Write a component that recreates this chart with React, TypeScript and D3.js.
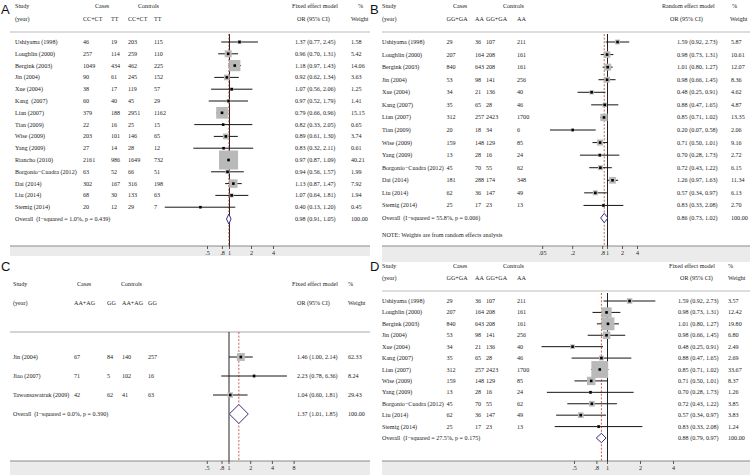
import React from 'react';
import * as d3 from 'd3';

// ---------- Panel A data (CC+CT vs TT, fixed effect) ----------
const studiesA = ["Ushiyama (1998)", "Loughlin (2000)", "Bergink (2003)", "Jin (2004)", "Xue (2004)", "Kang  (2007)", "Lian (2007)", "Tian (2009)", "Wise (2009)", "Yang (2009)", "Riancho (2010)", "Borgonio\u2212Cuadra (2012)", "Dai (2014)", "Liu (2014)", "Stemig (2014)"];
const countsA = [[46, 19, 203, 115], [257, 114, 259, 110], [1049, 434, 462, 225], [90, 61, 245, 152], [38, 17, 119, 57], [60, 40, 45, 29], [379, 188, 2951, 1162], [22, 16, 25, 15], [203, 101, 146, 65], [27, 14, 28, 12], [2161, 986, 1649, 732], [63, 52, 66, 51], [302, 167, 316, 198], [68, 30, 133, 63], [20, 12, 29, 7]];
const estA = [[1.37, 0.77, 2.45], [0.96, 0.70, 1.31], [1.18, 0.97, 1.43], [0.92, 0.62, 1.34], [1.07, 0.56, 2.06], [0.97, 0.52, 1.79], [0.79, 0.66, 0.96], [0.82, 0.33, 2.05], [0.89, 0.61, 1.30], [0.83, 0.32, 2.11], [0.97, 0.87, 1.09], [0.94, 0.56, 1.57], [1.13, 0.87, 1.47], [1.07, 0.64, 1.81], [0.40, 0.13, 1.20]];
const weightsA = [1.58, 5.42, 14.06, 3.63, 1.25, 1.41, 15.15, 0.65, 3.74, 0.61, 40.21, 1.99, 7.92, 1.94, 0.45];
const overallA = [0.98, 0.91, 1.05];
const hetA = "Overall  (I\u2212squared = 1.0%, p = 0.439)";
const genoA = ["CC+CT", "TT", "CC+CT", "TT"];
const ticksA = [0.5, 0.8, 1, 2, 4];
const tickLabelsA = [".5", ".8", "1", "2", "4"];

// ---------- Panel B data (GG+GA vs AA, random effect) ----------
const studiesB = ["Ushiyama (1998)", "Loughlin (2000)", "Bergink (2003)", "Jin (2004)", "Xue (2004)", "Kang (2007)", "Lian (2007)", "Tian (2009)", "Wise (2009)", "Yang (2009)", "Borgonio\u2212Cuadra (2012)", "Dai (2014)", "Liu (2014)", "Stemig (2014)"];
const countsB = [[29, 36, 107, 211], [207, 164, 208, 161], [840, 643, 208, 161], [53, 98, 141, 256], [34, 21, 136, 40], [35, 65, 28, 46], [312, 257, 2423, 1700], [20, 18, 34, 6], [159, 148, 129, 85], [13, 28, 16, 24], [45, 70, 55, 62], [181, 288, 174, 348], [62, 36, 147, 49], [25, 17, 23, 13]];
const estB = [[1.59, 0.92, 2.73], [0.98, 0.73, 1.31], [1.01, 0.80, 1.27], [0.98, 0.66, 1.45], [0.48, 0.25, 0.91], [0.88, 0.47, 1.65], [0.85, 0.71, 1.02], [0.20, 0.07, 0.58], [0.71, 0.50, 1.01], [0.70, 0.28, 1.73], [0.72, 0.43, 1.22], [1.26, 0.97, 1.63], [0.57, 0.34, 0.97], [0.83, 0.33, 2.08]];
const weightsB = [5.87, 10.61, 12.07, 8.36, 4.62, 4.87, 13.35, 2.06, 9.16, 2.72, 6.15, 11.34, 6.13, 2.70];
const overallB = [0.86, 0.73, 1.02];
const hetB = "Overall  (I\u2212squared = 55.8%, p = 0.006)";
const genoB = ["GG+GA", "AA", "GG+GA", "AA"];
const ticksB = [0.05, 0.2, 0.8, 1, 2, 4];
const tickLabelsB = [".05", ".2", ".8", "1", "2", "4"];
const noteB = "NOTE: Weights are from random effects analysis";

// ---------- Panel C data (AA+AG vs GG, fixed effect) ----------
const studiesC = ["Jin (2004)", "Jiao (2007)", "Tawonsawatruk (2009)"];
const countsC = [[67, 84, 140, 257], [71, 5, 102, 16], [42, 62, 41, 63]];
const estC = [[1.46, 1.00, 2.14], [2.23, 0.78, 6.36], [1.04, 0.60, 1.81]];
const weightsC = [62.33, 8.24, 29.43];
const overallC = [1.37, 1.01, 1.85];
const hetC = "Overall  (I\u2212squared = 0.0%, p = 0.390)";
const genoC = ["AA+AG", "GG", "AA+AG", "GG"];
const ticksC = [0.5, 0.8, 1, 2, 4, 8];
const tickLabelsC = [".5", ".8", "1", "2", "4", "8"];

// ---------- Panel D data (GG+GA vs AA, fixed effect) ----------
const studiesD = ["Ushiyama (1998)", "Loughlin (2000)", "Bergink (2003)", "Jin (2004)", "Xue (2004)", "Kang (2007)", "Lian (2007)", "Wise (2009)", "Yang (2009)", "Borgonio\u2212Cuadra (2012)", "Liu (2014)", "Stemig (2014)"];
const countsD = [[29, 36, 107, 211], [207, 164, 208, 161], [840, 643, 208, 161], [53, 98, 141, 256], [34, 21, 136, 40], [35, 65, 28, 46], [312, 257, 2423, 1700], [159, 148, 129, 85], [13, 28, 16, 24], [45, 70, 55, 62], [62, 36, 147, 49], [25, 17, 23, 13]];
const estD = [[1.59, 0.92, 2.73], [0.98, 0.73, 1.31], [1.01, 0.80, 1.27], [0.98, 0.66, 1.45], [0.48, 0.25, 0.91], [0.88, 0.47, 1.65], [0.85, 0.71, 1.02], [0.71, 0.50, 1.01], [0.70, 0.28, 1.73], [0.72, 0.43, 1.22], [0.57, 0.34, 0.97], [0.83, 0.33, 2.08]];
const weightsD = [3.57, 12.42, 19.80, 6.80, 2.49, 2.69, 33.67, 8.37, 1.26, 3.85, 3.83, 1.24];
const overallD = [0.88, 0.79, 0.97];
const hetD = "Overall  (I\u2212squared = 27.5%, p = 0.175)";
const genoD = ["GG+GA", "AA", "GG+GA", "AA"];
const ticksD = [0.5, 0.8, 1, 2, 4];
const tickLabelsD = [".5", ".8", "1", "2", "4"];

const SERIF = "'Liberation Serif', 'Times New Roman', serif";
const FS = 6.1;
const TXT = "#222";

type Cfg = {
  letter: string; lx: number; ly: number;
  sx: number; cols: number[]; casesX: number; ctrlX: number;
  h1: number; h2: number; lineY: number; lineX0: number; lineX1: number; lineColor: string; lineW: number;
  row0: number; rowN: number;
  orX: number; wX: number; modelX: number; pctX: number; orHX: number; wHX: number; model: string;
  one: number; k: number; boxK: number; diaH: number;
  bandY: number; bandB: number; bandX0: number; bandX1: number; vTop: number;
  studies: string[]; counts: number[][]; est: number[][]; weights: number[]; overall: number[]; het: string;
  geno: string[]; ticks: number[]; tickLabels: string[]; note?: string; noteY?: number;
};

function Panel({ c }: { c: Cfg }) {
  const x = d3.scaleLog().domain([1, 2]).range([c.one, c.one + c.k]);
  const n = c.studies.length;
  const y = d3.scaleLinear().domain([0, n]).range([c.row0, c.rowN]);
  const f2 = (v: number) => v.toFixed(2);
  const T = (props: any) => (
    <text fontFamily={SERIF} fontSize={FS} fill={TXT} dominantBaseline="central" style={{ whiteSpace: 'pre' }} {...props} />
  );
  const ov = c.overall;
  const yo = y(n);
  return (
    <g>
      <text x={c.lx} y={c.ly} fontFamily="'Liberation Sans', Arial, sans-serif" fontSize={13} fill="#111">{c.letter}</text>
      <T x={c.sx} y={c.h1}>Study</T>
      <T x={c.sx} y={c.h2}>(year)</T>
      <T x={c.casesX} y={c.h1}>Cases</T>
      <T x={c.ctrlX} y={c.h1}>Controls</T>
      {c.geno.map((g, i) => <T key={i} x={c.cols[i]} y={c.h2}>{g}</T>)}
      <T x={c.modelX} y={c.h1}>{c.model}</T>
      <T x={c.pctX} y={c.h1}>%</T>
      <T x={c.orHX} y={c.h2}>OR (95% CI)</T>
      <T x={c.wHX} y={c.h2}>Weight</T>
      <line x1={c.lineX0} x2={c.lineX1} y1={c.lineY} y2={c.lineY} stroke={c.lineColor} strokeWidth={c.lineW} />

      {/* axis band */}
      <rect x={c.bandX0} y={c.bandY} width={c.bandX1 - c.bandX0} height={c.bandB - c.bandY} fill="#ebebeb" />
      <line x1={c.bandX0} x2={c.bandX1} y1={c.bandY} y2={c.bandY} stroke="#8a8a8a" strokeWidth={1} />
      {c.ticks.map((t, i) => (
        <g key={i}>
          <line x1={x(t)} x2={x(t)} y1={c.bandY} y2={c.bandY + 3} stroke="#333" strokeWidth={0.8} />
          <text x={x(t)} y={c.bandY + 6.5} fontFamily={SERIF} fontSize={FS} fill={TXT} textAnchor="middle" dominantBaseline="central">{c.tickLabels[i]}</text>
        </g>
      ))}

      {/* reference lines */}
      <line x1={x(1)} x2={x(1)} y1={c.vTop} y2={c.bandY} stroke="#222" strokeWidth={1} />
      <line x1={x(ov[0])} x2={x(ov[0])} y1={c.vTop} y2={c.bandY} stroke="#c0392b" strokeWidth={0.8} strokeDasharray="2,1.6" />

      {/* CI lines */}
      {c.est.map((e, i) => (
        <line key={'l' + i} x1={x(e[1])} x2={x(e[2])} y1={y(i)} y2={y(i)} stroke="#151515" strokeWidth={1} />
      ))}
      {/* boxes */}
      {c.est.map((e, i) => {
        const s = c.boxK * Math.sqrt(c.weights[i]);
        return <rect key={'b' + i} x={x(e[0]) - s / 2} y={y(i) - s / 2} width={s} height={s} fill="#b9b9b9" />;
      })}
      {/* points */}
      {c.est.map((e, i) => (
        <rect key={'p' + i} x={x(e[0]) - 1.3} y={y(i) - 1.3} width={2.6} height={2.6} fill="#000" />
      ))}

      {/* row texts */}
      {c.studies.map((s, i) => (
        <g key={'t' + i}>
          <T x={c.sx} y={y(i)}>{s}</T>
          {c.counts[i].map((v, j) => <T key={j} x={c.cols[j]} y={y(i)}>{v}</T>)}
          <T x={c.orX} y={y(i)}>{`${f2(c.est[i][0])} (${f2(c.est[i][1])}, ${f2(c.est[i][2])})`}</T>
          <T x={c.wX} y={y(i)}>{f2(c.weights[i])}</T>
        </g>
      ))}

      {/* overall */}
      <T x={c.sx} y={yo}>{c.het}</T>
      <path d={`M${x(ov[1])},${yo} L${x(ov[0])},${yo - c.diaH} L${x(ov[2])},${yo} L${x(ov[0])},${yo + c.diaH} Z`} fill="#fff" stroke="#3b2e7e" strokeWidth={1} />
      <T x={c.orX} y={yo}>{`${f2(ov[0])} (${f2(ov[1])}, ${f2(ov[2])})`}</T>
      <T x={c.wX} y={yo}>100.00</T>
      {c.note ? <T x={c.sx} y={c.noteY}>{c.note}</T> : null}
    </g>
  );
}

const cfgA: Cfg = {
  letter: "A", lx: 1, ly: 14, sx: 15, cols: [83, 111, 128, 154], casesX: 95, ctrlX: 138,
  h1: 6, h2: 19, lineY: 32, lineX0: 10, lineX1: 370, lineColor: "#d2d2d2", lineW: 1.6,
  row0: 42, rowN: 219, orX: 295, wX: 351, modelX: 292, pctX: 358, orHX: 297, wHX: 351, model: "Fixed effect model",
  one: 229.5, k: 22, boxK: 3, diaH: 5, bandY: 246, bandB: 256, bandX0: 10, bandX1: 370, vTop: 34,
  studies: studiesA, counts: countsA, est: estA, weights: weightsA, overall: overallA, het: hetA,
  geno: genoA, ticks: ticksA, tickLabels: tickLabelsA,
};
const cfgB: Cfg = {
  letter: "B", lx: 370, ly: 14, sx: 382, cols: [446.5, 475, 486, 517], casesX: 453, ctrlX: 503,
  h1: 6, h2: 19, lineY: 32, lineX0: 382, lineX1: 750, lineColor: "#d2d2d2", lineW: 1.6,
  row0: 42, rowN: 218, orX: 677, wX: 731, modelX: 662, pctX: 732, orHX: 670, wHX: 730, model: "Random effect model",
  one: 607.5, k: 15, boxK: 2, diaH: 4.7, bandY: 246, bandB: 262, bandX0: 382, bandX1: 750, vTop: 34,
  studies: studiesB, counts: countsB, est: estB, weights: weightsB, overall: overallB, het: hetB,
  geno: genoB, ticks: ticksB, tickLabels: tickLabelsB, note: noteB, noteY: 235,
};
const cfgC: Cfg = {
  letter: "C", lx: 1, ly: 271, sx: 13, cols: [74, 107, 122, 148], casesX: 77, ctrlX: 121,
  h1: 284, h2: 303, lineY: 332, lineX0: 10, lineX1: 370, lineColor: "#a8a8a8", lineW: 1.2,
  row0: 357, rowN: 414, orX: 297, wX: 348, modelX: 292, pctX: 348, orHX: 297, wHX: 348, model: "Fixed effect model",
  one: 229, k: 21.7, boxK: 1, diaH: 9.5, bandY: 461, bandB: 475, bandX0: 10, bandX1: 370, vTop: 332,
  studies: studiesC, counts: countsC, est: estC, weights: weightsC, overall: overallC, het: hetC,
  geno: genoC, ticks: ticksC, tickLabels: tickLabelsC,
};
const cfgD: Cfg = {
  letter: "D", lx: 370, ly: 271, sx: 382, cols: [446.5, 475, 486, 517], casesX: 453, ctrlX: 503,
  h1: 266, h2: 278, lineY: 291, lineX0: 382, lineX1: 750, lineColor: "#d2d2d2", lineW: 1.6,
  row0: 301, rowN: 438, orX: 678, wX: 728, modelX: 669, pctX: 728, orHX: 680, wHX: 728, model: "Fixed effect model",
  one: 607.5, k: 33, boxK: 2.9, diaH: 4.7, bandY: 461, bandB: 475, bandX0: 382, bandX1: 750, vTop: 293,
  studies: studiesD, counts: countsD, est: estD, weights: weightsD, overall: overallD, het: hetD,
  geno: genoD, ticks: ticksD, tickLabels: tickLabelsD,
};

export default function App() {
  return (
    <svg width={750} height={475} style={{ position: 'absolute', left: 0, top: 0, background: '#fff' }}>
      <rect x={0} y={0} width={750} height={475} fill="#fff" />
      <Panel c={cfgA} />
      <Panel c={cfgB} />
      <Panel c={cfgC} />
      <Panel c={cfgD} />
    </svg>
  );
}
